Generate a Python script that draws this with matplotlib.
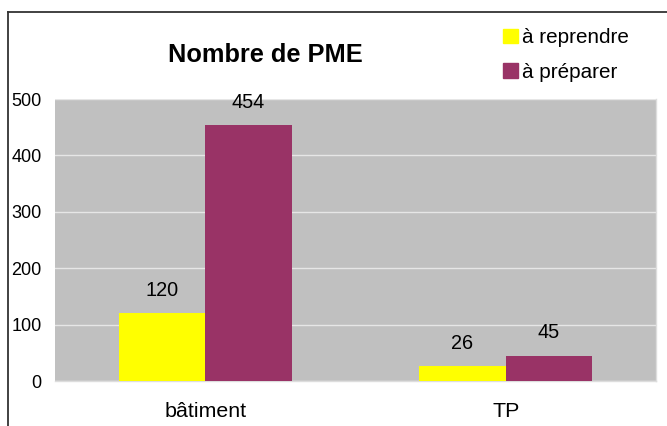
import numpy as np
import matplotlib
matplotlib.use("Agg")
import matplotlib.pyplot as plt
from matplotlib.patches import Patch

plt.rcParams["font.family"] = ["Liberation Sans", "DejaVu Sans"]

categories = ["bâtiment", "TP"]
a_reprendre = [120, 26]
a_preparer = [454, 45]
series_names = ["à reprendre", "à préparer"]
yticks = [0, 100, 200, 300, 400, 500]

fig = plt.figure(figsize=(6.67, 4.26), dpi=100)
W, H = 667, 426
ax = fig.add_axes([55 / W, 1 - 381 / H, 601 / W, 282 / H])

x = np.arange(len(categories))
w = 0.288
b1 = ax.bar(x - w / 2, a_reprendre, w, color="#FFFF00", zorder=3)
b2 = ax.bar(x + w / 2, a_preparer, w, color="#993366", zorder=3)

for bars, vals in [(b1, a_reprendre), (b2, a_preparer)]:
    for r, v in zip(bars, vals):
        ax.annotate(str(v), (r.get_x() + r.get_width() / 2, v),
                    xytext=(0, 12.5), textcoords="offset points",
                    ha="center", va="baseline", fontsize=14.3)

ax.set_facecolor("#C0C0C0")
ax.set_xlim(-0.5, 1.5)
ax.set_ylim(0, 500)
ax.set_yticks(yticks)
ax.set_xticks(x)
ax.set_xticklabels(categories)
ax.tick_params(axis="both", length=0)
ax.tick_params(axis="y", pad=9.5, labelsize=13)
ax.tick_params(axis="x", pad=15, labelsize=15.4)
ax.yaxis.grid(True, color="#e6e6e6", linewidth=1, zorder=1)
ax.set_axisbelow(True)
for s in ["top", "left"]:
    ax.spines[s].set_visible(False)
for s in ["right", "bottom"]:
    ax.spines[s].set_color("#dddddd")
    ax.spines[s].set_linewidth(1)

fig.text(265 / W, 1 - 62 / H, "Nombre de PME", ha="center", va="baseline",
         fontsize=18.3, fontweight="bold")

handles = [Patch(color="#FFFF00"), Patch(color="#993366")]
fig.legend(handles, series_names, loc="center left",
           bbox_to_anchor=(493 / W, 1 - 55 / H), frameon=False,
           fontsize=14.9, handlelength=0.72, handleheight=0.72,
           handletextpad=0.2, labelspacing=0.75, borderpad=0)

# outer chart frame
fig.add_artist(plt.Line2D([8 / W, 8 / W], [0, 1 - 12 / H], color="#333333",
                          linewidth=1.3, transform=fig.transFigure))
fig.add_artist(plt.Line2D([8 / W, 1], [1 - 12 / H, 1 - 12 / H], color="#333333",
                          linewidth=1.3, transform=fig.transFigure))

fig.savefig("out.png", dpi=100)
